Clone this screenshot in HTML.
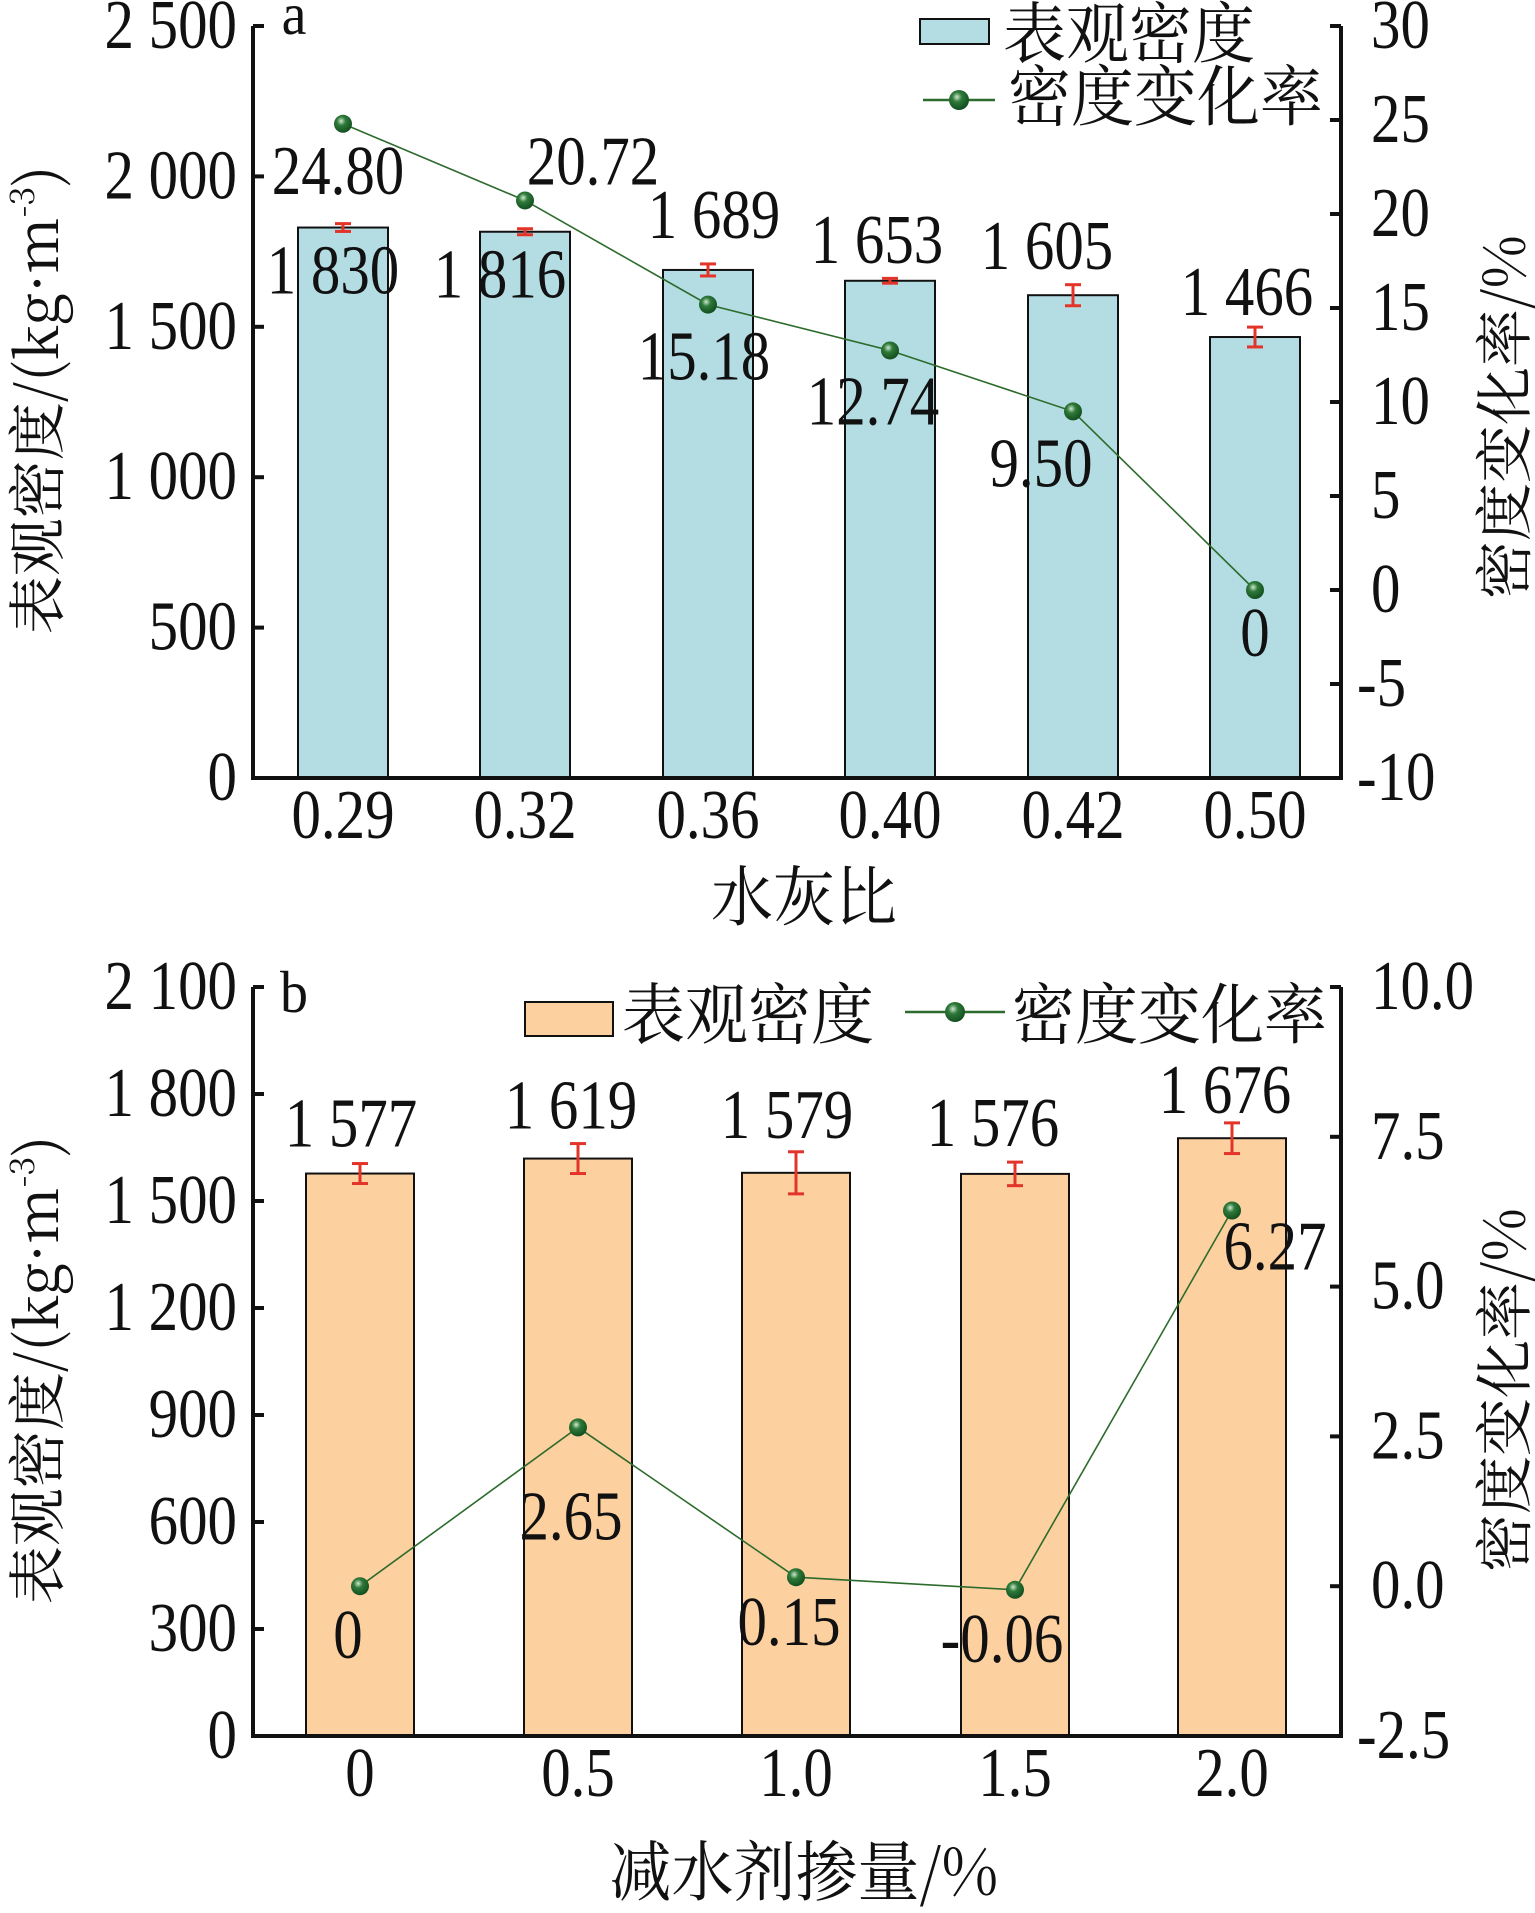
<!DOCTYPE html>
<html><head><meta charset="utf-8"><style>
html,body{margin:0;padding:0;background:#fff}
svg{display:block}
text{font-family:"Liberation Serif","Noto Serif CJK SC",serif;fill:#111}
.cj{font-family:"Noto Serif CJK SC","Liberation Serif",serif}
</style></head><body>
<svg id="fig" width="1535" height="1913" viewBox="0 0 1535 1913" xmlns="http://www.w3.org/2000/svg">
<defs>
<radialGradient id="mk" cx="0.4" cy="0.35" r="0.7"><stop offset="0" stop-color="#cfe8cf"/><stop offset="0.35" stop-color="#2f7a3a"/><stop offset="1" stop-color="#0f4a1c"/></radialGradient>
</defs>
<g id="ca"></g>
<g id="cb"></g>
</svg>
<script>
// ---- Chart a data ----
const catsA = ["0.29","0.32","0.36","0.40","0.42","0.50"];
const densA = [1830,1816,1689,1653,1605,1466];
const errA = [13,10,20,8,35,33];
const rateA = [24.80,20.72,15.18,12.74,9.50,0];
const densLblA = ["1 830","1 816","1 689","1 653","1 605","1 466"];
const rateLblA = ["24.80","20.72","15.18","12.74","9.50","0"];
const leftTicksA = [0,500,1000,1500,2000,2500];
const leftTickLblA = ["0","500","1 000","1 500","2 000","2 500"];
const rightTicksA = [-10,-5,0,5,10,15,20,25,30];
const rightTickLblA = ["-10","-5","0","5","10","15","20","25","30"];
// ---- Chart b data ----
const catsB = ["0","0.5","1.0","1.5","2.0"];
const densB = [1577,1619,1579,1576,1676];
const errB = [28,42,59,33,43];
const rateB = [0,2.65,0.15,-0.06,6.27];
const densLblB = ["1 577","1 619","1 579","1 576","1 676"];
const rateLblB = ["0","2.65","0.15","-0.06","6.27"];
const leftTicksB = [0,300,600,900,1200,1500,1800,2100];
const leftTickLblB = ["0","300","600","900","1 200","1 500","1 800","2 100"];
const rightTicksB = [-2.5,0,2.5,5,7.5,10];
const rightTickLblB = ["-2.5","0.0","2.5","5.0","7.5","10.0"];

const NS="http://www.w3.org/2000/svg";
function mk(parent,tag,attrs){const e=document.createElementNS(NS,tag);for(const k in attrs)e.setAttribute(k,attrs[k]);parent.appendChild(e);return e;}
function txt(parent,x,y,s,size,anchor,cls,rot,sc){
  const t=mk(parent,'text',{'font-size':size,'text-anchor':anchor||'middle'});
  t.setAttribute('transform','translate('+x+','+y+')'+(rot?' rotate('+rot+')':'')+(sc||' scale(0.95,1.12)'));
  if(cls)t.setAttribute('class',cls);
  t.textContent=s;return t;
}

function drawChart(g,cfg){
  const {x0,x1,yTop,yBot,lmin,lmax,rmin,rmax,cats,dens,err,rate,dLbl,rLbl,lT,lTL,rT,rTL,barW,fill,centers,dPos,rPos}=cfg;
  const yL=v=>yBot-(v-lmin)/(lmax-lmin)*(yBot-yTop);
  const yR=v=>yBot-(v-rmin)/(rmax-rmin)*(yBot-yTop);
  cats.forEach((c,i)=>{
    const cx=centers[i];
    const b=mk(g,'rect',{x:cx-barW/2,y:yL(dens[i]),width:barW,height:yBot-yL(dens[i]),fill:fill,stroke:'#111','stroke-width':2});
    
    
    const eg=mk(g,'g',{stroke:'#e3342a','stroke-width':3,fill:'none'});
    
    
    const t=yL(dens[i]+err[i]),bo=yL(dens[i]-err[i]);
    mk(eg,'line',{x1:cx,x2:cx,y1:t,y2:bo});
    mk(eg,'line',{x1:cx-8,x2:cx+8,y1:t,y2:t});
    mk(eg,'line',{x1:cx-8,x2:cx+8,y1:bo,y2:bo});
  });
  const ax=mk(g,'g',{stroke:'#111','stroke-width':4,fill:'none'});
  
  
  mk(ax,'line',{x1:x0,x2:x0,y1:yTop,y2:yBot+2});
  mk(ax,'line',{x1:x1,x2:x1,y1:yTop,y2:yBot+2});
  mk(ax,'line',{x1:x0-2,x2:x1+2,y1:yBot,y2:yBot});
  lT.forEach((v,i)=>{const y=yL(v);mk(ax,'line',{x1:x0,x2:x0+11,y1:y,y2:y});
    const t=txt(g,x0-16,y+22,lTL[i],62,'end');});
  rT.forEach((v,i)=>{const y=yR(v);mk(ax,'line',{x1:x1,x2:x1-11,y1:y,y2:y});
    const t=txt(g,x1+(rTL[i][0]=='-'?16:30),y+22,rTL[i],62,'start');});
  cats.forEach((c,i)=>{const t=txt(g,centers[i],cfg.xLblY,c,62,'middle');});
  const pts=rate.map((v,i)=>centers[i]+','+yR(v)).join(' ');
  const pl=mk(g,'polyline',{points:pts,fill:'none',stroke:'#2d6b2d','stroke-width':1.6});
  
  
  rate.forEach((v,i)=>{const c=mk(g,'circle',{cx:centers[i],cy:yR(v),r:9,fill:'url(#mk)'});
    
    });
  dLbl.forEach((s,i)=>{const t=txt(g,centers[i]+dPos[i][0],yL(dens[i])+dPos[i][1],s,62,'middle');
    });
  rLbl.forEach((s,i)=>{const t=txt(g,centers[i]+rPos[i][0],yR(rate[i])+rPos[i][1],s,62,'middle');
    });
}

const ga=document.getElementById('ca');
drawChart(ga,{x0:253,x1:1341,yTop:26,yBot:778,lmin:0,lmax:2500,rmin:-10,rmax:30,
  cats:catsA,dens:densA,err:errA,rate:rateA,dLbl:densLblA,rLbl:rateLblA,lT:leftTicksA,lTL:leftTickLblA,rT:rightTicksA,rTL:rightTickLblA,
  barW:90,fill:'#b4dde3',centers:[343,525,708,890,1073,1255],xLblY:838,
  dPos:[[-10,66],[-25,66],[6,-32],[-13,-18],[-26,-26],[-8,-22]],
  rPos:[[-5,70],[68,-16],[-4,75],[-17,74],[-32,75],[0,66]]});
const gb=document.getElementById('cb');
drawChart(gb,{x0:253,x1:1341,yTop:987,yBot:1736,lmin:0,lmax:2100,rmin:-2.5,rmax:10,
  cats:catsB,dens:densB,err:errB,rate:rateB,dLbl:densLblB,rLbl:rateLblB,lT:leftTicksB,lTL:leftTickLblB,rT:rightTicksB,rTL:rightTickLblB,
  barW:108,fill:'#fdd0a0',centers:[360,578,796,1015,1232],xLblY:1796,
  dPos:[[-9,-27],[-7,-30],[-9,-35],[-22,-28],[-7,-25]],
  rPos:[[-12,72],[-7,112],[-7,68],[-13,72],[43,59]]});

function addT(parent,x,y,s,size,anchor,name,rot,cls){const t=txt(parent,x,y,s,size,anchor,cls||'cj',rot,' scale(1,1.05)');return t;}
addT(ga,294,34,'a',56,'middle','panel-label-a',0,' ');
addT(gb,294,1012,'b',56,'middle','panel-label-b',0,' ');
addT(ga,804,920,'水灰比',62,'middle','x-axis-title-a');
addT(gb,804,1895,'减水剂掺量/%',62,'middle','x-axis-title-b');
function ylab(g,cx,cy,name){
  const t=mk(g,'text',{'font-size':58,'text-anchor':'middle',class:'cj',transform:'translate('+cx+','+cy+') rotate(-90)'});
  
  t.appendChild(document.createTextNode('表观密度/(kg·m'));
  const s=mk(t,'tspan',{'font-size':34,dy:-24});s.textContent='-3';
  const s2=mk(t,'tspan',{dy:24});s2.textContent=')';
}
ylab(ga,58,400,'left-axis-title-a');
ylab(gb,58,1370,'left-axis-title-b');
function rlab(g,cx,cy,name){const t=mk(g,'text',{'font-size':58,'text-anchor':'middle',class:'cj',transform:'translate('+cx+','+cy+') rotate(-90)'});
  t.textContent='密度变化率/%';}
rlab(ga,1525,417,'right-axis-title-a');
rlab(gb,1525,1390,'right-axis-title-b');

function legend(g,rx,ry,rw,rh,tx1,ty1,lx,ly,lw,tx2,ty2,fill,name){
  const lg=mk(g,'g',{});
  
  const r=mk(lg,'rect',{x:rx,y:ry,width:rw,height:rh,fill:fill,stroke:'#111','stroke-width':2});
  
  addT(lg,tx1,ty1,'表观密度',63,'start','legend-density-label');
  const l=mk(lg,'line',{x1:lx,x2:lx+lw,y1:ly,y2:ly,stroke:'#2d6b2d','stroke-width':2.5});
  
  const c=mk(lg,'circle',{cx:lx+lw/2,cy:ly,r:10,fill:'url(#mk)'});
  
  addT(lg,tx2,ty2,'密度变化率',63,'start','legend-rate-label');
}
legend(ga,920,19,69,25,1003,57,923,100,72,1008,120,'#b4dde3','legend-a');
legend(gb,525,1002,88,34,622,1038,905,1012,100,1012,1038,'#fdd0a0','legend-b');
</script>
</body></html>
